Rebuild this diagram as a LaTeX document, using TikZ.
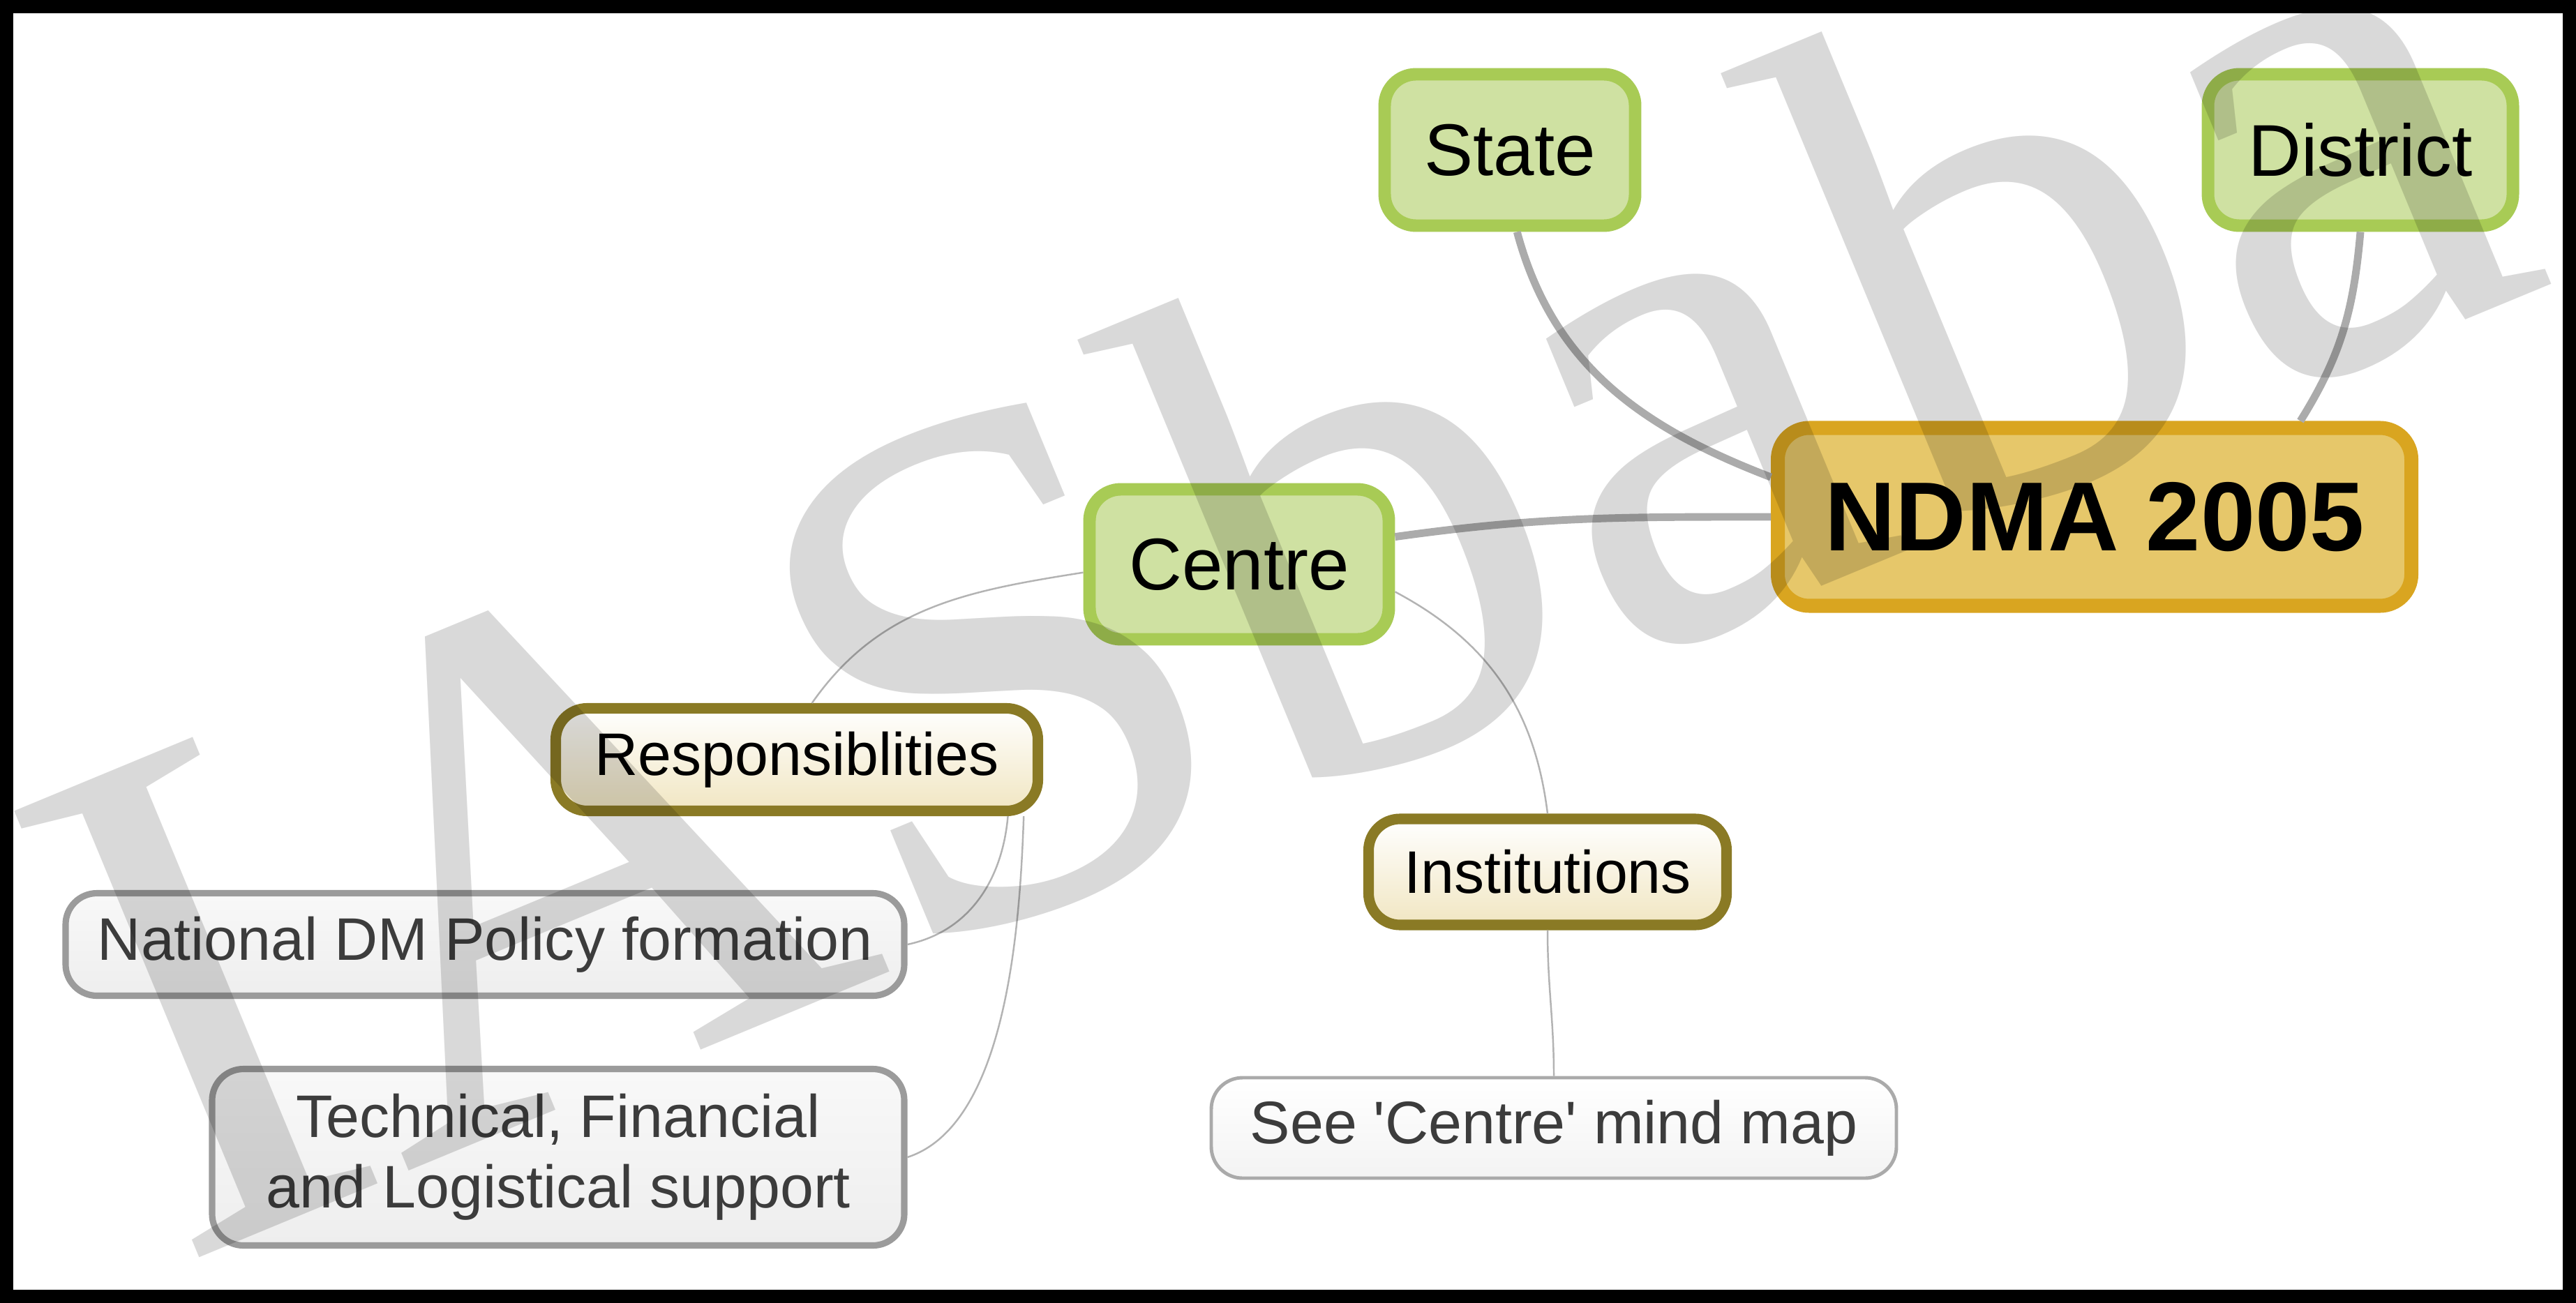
\documentclass[tikz,border=0pt]{standalone}
\usepackage{fontspec}
\setmainfont{Liberation Sans}
\newfontfamily\markfont{Liberation Serif}
\usepackage{tikz}

\definecolor{leafgreen}{HTML}{A8CB55}
\definecolor{leaffill}{HTML}{CFE1A2}
\definecolor{gold}{HTML}{D9A520}
\definecolor{goldfill}{HTML}{E6C76A}
\definecolor{olive}{HTML}{8A7A25}
\definecolor{cream}{HTML}{F1E6C2}
\definecolor{greyline}{HTML}{9B9B9B}
\definecolor{greyfill}{HTML}{EEEEEE}
\definecolor{textgrey}{HTML}{3C3C3C}
\definecolor{linkgrey}{HTML}{ABABAB}

\begin{document}
\begin{tikzpicture}[
  box/.style={rounded corners=0.45cm, align=center, inner sep=0pt},
  topic/.style={box, draw=leafgreen, fill=leaffill, line width=5.1pt,
    minimum height=2.17cm, font=\fontsize{29.9pt}{34pt}\selectfont},
  root/.style={box, draw=gold, fill=goldfill, line width=5.7pt,
    font=\bfseries\fontsize{40pt}{46pt}\selectfont},
  branch/.style={box, draw=olive, top color=white, bottom color=cream,
    line width=4.3pt, font=\fontsize{24.5pt}{28.7pt}\selectfont},
  leaf/.style={box, draw=greyline, top color=greyfill!40, bottom color=greyfill,
    line width=2.6pt, text=textgrey, font=\fontsize{24.5pt}{28.7pt}\selectfont},
  note/.style={leaf, draw=greyline!85, line width=1.4pt,
    top color=white, bottom color=greyfill!70},
  mainlink/.style={draw=linkgrey, line width=3.1pt},
  sublink/.style={draw=linkgrey!90, line width=0.7pt},
  stamp/.style={font=\markfont\fontsize{301pt}{301pt}\selectfont,
    text=black, text opacity=0.15, inner sep=0pt}]
  \useasboundingbox (0,0) rectangle (36.92,-18.68);
  \fill[white] (0,0) rectangle (36.92,-18.68);

  \node[root] (ndma) at (30.02,-7.41) [minimum width=9.08cm, minimum height=2.55cm] {NDMA 2005};
  \node[topic] (state) at (21.64,-2.15) [minimum width=3.59cm] {State};
  \node[topic] (district) at (33.83,-2.15) [minimum width=4.37cm] {District};
  \node[topic] (centre) at (17.76,-8.09) [minimum width=4.29cm, minimum height=2.15cm] {Centre};
  \node[branch] (resp) at (11.42,-10.89) [minimum width=6.91cm, minimum height=1.47cm] {Responsiblities};
  \node[branch] (inst) at (22.18,-12.50) [minimum width=5.13cm, minimum height=1.52cm] {Institutions};
  \node[leaf] (policy) at (6.95,-13.54) [minimum width=12.02cm, minimum height=1.47cm] {National DM Policy formation};
  \node[leaf] (support) at (8.00,-16.59) [minimum width=9.92cm, minimum height=2.53cm] {Technical, Financial\\and Logistical support};
  \node[note] (see) at (22.27,-16.17) [minimum width=9.82cm, minimum height=1.44cm] {See \textquotesingle Centre\textquotesingle{} mind map};

  \draw[mainlink] (centre.10) to[out=8,in=180] (ndma.west);
  \draw[mainlink] (state.-85) to[out=-75,in=159] (ndma.173);
  \draw[mainlink] (district.south) to[out=-95,in=58] (ndma.25);
  \draw[sublink] (centre.183) to[out=189,in=55] (resp.75);
  \draw[sublink] (centre.-10) to[out=-28,in=97] (inst.north);
  \draw[sublink] (resp.-15.5) to[out=-95,in=12] (policy.east);
  \draw[sublink] (resp.-14.7) to[out=-92,in=18,looseness=0.75] (support.east);
  \draw[sublink] (inst.south) to[out=-90,in=90] (see.north);

  % watermark
  \begin{scope}
    \clip (0,0) rectangle (36.92,-18.68);
    \node[stamp, rotate=22.5, anchor=base west] (wm) at (2.5,-18.18) {IASbaba};
  \end{scope}

  \draw[line width=0.19cm] (0.095,-0.095) rectangle (36.825,-18.585);
\end{tikzpicture}
\end{document}
